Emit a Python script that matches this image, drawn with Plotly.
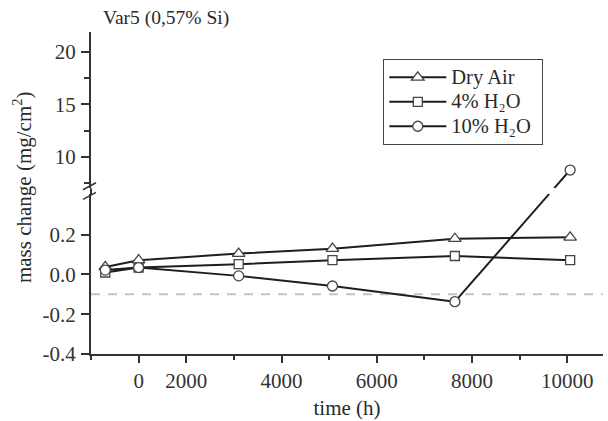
import plotly.graph_objects as go

# Exposure time, in axis units (h); the first sample sits before the "0" mark
time_h = [300, 1000, 3100, 5070, 7640, 10060]

# Mass change (mg/cm^2)
dry_air = [0.038, 0.072, 0.105, 0.13, 0.18, 0.187]
h2o_4 = [0.01, 0.035, 0.052, 0.072, 0.093, 0.072]
h2o_10 = [0.022, 0.035, -0.007, -0.058, -0.137, 8.74]

series_names = ["Dry Air", "4% H₂O", "10% H₂O"]

x_tickvals = [1000, 2000, 4000, 6000, 8000, 10000]
x_ticktext = ["0", "2000", "4000", "6000", "8000", "10000"]
x_minor = [0, 3000, 5000, 7000, 9000]

low_ticks = [-0.4, -0.2, 0.0, 0.2]
low_text = ["-0.4", "-0.2", "0.0", "0.2"]
up_ticks = [10, 15, 20]
up_minor = [7.5, 12.5, 17.5]

ref_level = -0.1

# Broken y axis: lower panel for small changes, upper panel for large ones
LOW_RANGE = [-0.4, 0.405]
UP_RANGE = [7.01, 21.9]
LOW_DOM = [0.0, 0.497]
UP_DOM = [0.515, 1.0]
X_RANGE = [0, 10750]

FONT = "Liberation Serif, Times New Roman, serif"
INK = "#1e1e1e"
AX = "#333333"
TXT = "#2a2a2a"


def to_paper(v, rng, dom):
    return dom[0] + (v - rng[0]) / (rng[1] - rng[0]) * (dom[1] - dom[0])


def legend_label(text):
    # larger glyphs than the legend's base size, which sets the row pitch;
    # the trailing no-break space widens the frame on the right
    return f'<span style="font-size:20.5px">{text}\u00a0</span>'


# Where the 10% H2O segment crossing the break leaves the lower panel and enters the upper one
xa, ya = time_h[4], to_paper(h2o_10[4], LOW_RANGE, LOW_DOM)
xb, yb = time_h[5], to_paper(h2o_10[5], UP_RANGE, UP_DOM)
x_exit = xa + (LOW_DOM[1] - ya) / (yb - ya) * (xb - xa)
x_enter = xa + (UP_DOM[0] - ya) / (yb - ya) * (xb - xa)

marker_line = dict(color="#444444", width=1.3)
line_style = dict(color=INK, width=2)

fig = go.Figure()

# Reference level
fig.add_trace(go.Scatter(
    x=X_RANGE, y=[ref_level, ref_level], mode="lines",
    line=dict(color="#c4c4c4", width=2, dash="9px,8px"),
    hoverinfo="skip", showlegend=False, yaxis="y", cliponaxis=False))

fig.add_trace(go.Scatter(
    x=time_h, y=dry_air, name=legend_label(series_names[0]), mode="lines+markers",
    line=line_style,
    marker=dict(symbol="triangle-up", color="white", size=11, line=marker_line),
    yaxis="y"))
fig.add_trace(go.Scatter(
    x=time_h, y=h2o_4, name=legend_label(series_names[1]), mode="lines+markers",
    line=line_style,
    marker=dict(symbol="square", color="white", size=9, line=marker_line),
    yaxis="y"))
# 10% H2O: link across the break, then the points themselves
fig.add_trace(go.Scatter(
    x=[time_h[4], x_exit], y=[h2o_10[4], LOW_RANGE[1]], mode="lines",
    line=line_style, showlegend=False, hoverinfo="skip", yaxis="y"))
fig.add_trace(go.Scatter(
    x=[x_enter, time_h[5]], y=[UP_RANGE[0], h2o_10[5]], mode="lines",
    line=line_style, showlegend=False, hoverinfo="skip", yaxis="y2"))
fig.add_trace(go.Scatter(
    x=time_h[:5], y=h2o_10[:5], name=legend_label(series_names[2]), mode="lines+markers",
    line=line_style,
    marker=dict(symbol="circle", color="white", size=10, line=marker_line),
    yaxis="y"))
fig.add_trace(go.Scatter(
    x=time_h[5:], y=h2o_10[5:], mode="markers", showlegend=False,
    marker=dict(symbol="circle", color="white", size=10, line=marker_line),
    yaxis="y2"))

axis_common = dict(
    showgrid=False, zeroline=False, showline=True, linecolor=AX, linewidth=2,
    ticks="outside", tickwidth=1.5, tickcolor=AX,
    tickfont=dict(family=FONT, size=21, color="#333333"),
)

fig.update_layout(
    width=608, height=421,
    margin=dict(l=91, r=5, t=32, b=65),
    paper_bgcolor="white", plot_bgcolor="white",
    font=dict(family=FONT, size=21, color=TXT),
    xaxis=dict(
        range=X_RANGE, tickvals=x_tickvals, ticktext=x_ticktext, ticklen=7,
        minor=dict(tickvals=x_minor, ticklen=4, tickwidth=1.5, tickcolor=AX, ticks="outside"),
        title=dict(text="time (h)", font=dict(family=FONT, size=21), standoff=8),
        anchor="y", ticklabelstandoff=0, **axis_common),
    yaxis=dict(
        domain=LOW_DOM, range=LOW_RANGE, tickvals=low_ticks, ticktext=low_text,
        ticklen=8, anchor="x", ticklabelstandoff=1, **axis_common),
    yaxis2=dict(
        domain=UP_DOM, range=UP_RANGE, tickvals=up_ticks, ticklen=8,
        minor=dict(tickvals=up_minor, ticklen=5, tickwidth=1.5, tickcolor=AX, ticks="outside"),
        anchor="x", ticklabelstandoff=1, **axis_common),
    legend=dict(
        x=(383 - 91) / 512, y=(356 - 59) / 324, xanchor="left", yanchor="top",
        bgcolor="white", bordercolor="#444444", borderwidth=1.3,
        font=dict(family=FONT, size=16.5, color=TXT),
        itemwidth=57, tracegroupgap=0),
    showlegend=True,
)

# Axis line through the break gap and the break marks
fig.add_shape(type="line", xref="paper", yref="paper", x0=0, x1=0,
              y0=LOW_DOM[1], y1=UP_DOM[0], line=dict(color=AX, width=2))
for yc in [UP_DOM[0] + 0.006, LOW_DOM[1] - 0.006]:
    fig.add_shape(type="line", xref="paper", yref="paper",
                  xsizemode="pixel", xanchor=0, ysizemode="pixel", yanchor=yc,
                  x0=-8, x1=5, y0=-3.5, y1=3.5, line=dict(color=AX, width=1.5))

fig.add_annotation(text="Var5 (0,57% Si)", xref="paper", yref="paper",
                   x=(101 - 91) / 512, y=1 + 14 / 324, xanchor="left", yanchor="middle",
                   showarrow=False, font=dict(family=FONT, size=19.5, color=TXT))
fig.add_annotation(text="mass change (mg/cm<sup>2</sup>)", xref="paper", yref="paper",
                   x=(22 - 91) / 512, y=(356 - 188) / 324, textangle=-90,
                   xanchor="center", yanchor="middle", showarrow=False,
                   font=dict(family=FONT, size=21, color=TXT))

fig.write_html("out.html")
